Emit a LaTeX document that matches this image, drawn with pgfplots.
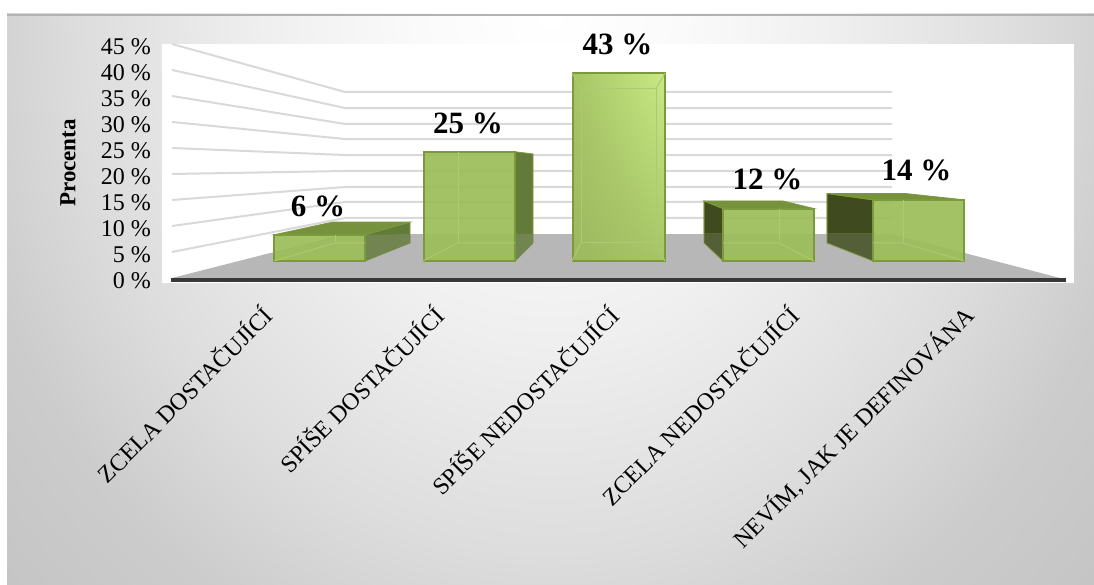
\documentclass[border=0pt]{standalone}
\usepackage{pgfplots}
\pgfplotsset{compat=1.18}
\usetikzlibrary{shadings}
\usepackage{fontspec}
\setmainfont{Liberation Serif}
\definecolor{bgA}{HTML}{FAFAFA}
\definecolor{bgB}{HTML}{EFEFEF}
\definecolor{bgC}{HTML}{DDDDDD}
\definecolor{bgD}{HTML}{CCCCCC}
\definecolor{bgE}{HTML}{C0C0C0}
\pgfdeclareradialshading{bg}{\pgfpoint{0bp}{0bp}}{color(0bp)=(white); color(6bp)=(bgA); color(12.75bp)=(bgB); color(21bp)=(bgC); color(27bp)=(bgD); color(37bp)=(bgE); color(50bp)=(bgE)}
\definecolor{gridc}{HTML}{D9D9D9}
\definecolor{floorc}{HTML}{B7B7B7}
\definecolor{frontc}{HTML}{9DBD5A}
\definecolor{edgec}{HTML}{7B9A3C}
\definecolor{topc}{HTML}{76923C}
\definecolor{sidec}{HTML}{637B38}
\definecolor{sided}{HTML}{72844F}
\definecolor{darkc}{HTML}{3F4A1F}
\definecolor{darkd}{HTML}{545F38}
\definecolor{innerc}{HTML}{AEC873}
\definecolor{hiA}{HTML}{9DB860}
\definecolor{hiB}{HTML}{A6C565}
\definecolor{hiC}{HTML}{C9E985}
\begin{document}
\begin{tikzpicture}[x=1pt,y=1pt]
\useasboundingbox (0,0) rectangle (1094,585);
\fill[white] (0,0) rectangle (1094,585);
\begin{scope}
\clip (7,0) rectangle (1094,571);
\shade[shading=bg] (-10,-69) rectangle (1110,1211);
\end{scope}
\draw[color=black!30,line width=2pt] (7,570) -- (1094,570);
% main axis: x in pixels, y in percent
\begin{axis}[
  at={(162pt,302pt)}, anchor=south west,
  scale only axis, width=912pt, height=239pt,
  xmin=162, xmax=1074, ymin=-0.96, ymax=45,
  clip=false,
  axis line style={draw=none},
  tick style={draw=none},
  axis background/.style={fill=white},
  ytick={0,5,...,45},
  yticklabels={0 \%,5 \%,10 \%,15 \%,20 \%,25 \%,30 \%,35 \%,40 \%,45 \%},
  yticklabel style={font=\fontsize{24}{28}\selectfont, anchor=east, inner sep=0pt, xshift=-11pt, yshift=-2.5pt},
  xtick={275,447,622,802,976},
  xticklabels={ZCELA DOSTAČUJÍCÍ,SPÍŠE DOSTAČUJÍCÍ,SPÍŠE NEDOSTAČUJÍCÍ,ZCELA NEDOSTAČUJÍCÍ,{NEVÍM, JAK JE DEFINOVÁNA}},
  xticklabel style={font=\fontsize{24}{28}\selectfont, rotate=45, anchor=north east, inner sep=0pt, xshift=-24.6pt, yshift=-3.4pt},
  gl/.style={color=gridc,line width=2pt,mark=none},
]
\addplot[fill=floorc,draw=none] coordinates {(172,0)(345,8.46)(892,8.46)(1060,0)} --cycle;
\addplot[gl] coordinates {(172,5)(345,11.54)(892,11.54)};
\addplot[gl] coordinates {(172,10)(345,14.62)(892,14.62)};
\addplot[gl] coordinates {(172,15)(345,17.5)(892,17.5)};
\addplot[gl] coordinates {(172,20)(345,20.58)(892,20.58)};
\addplot[gl] coordinates {(172,25)(345,23.65)(892,23.65)};
\addplot[gl] coordinates {(172,30)(345,26.73)(892,26.73)};
\addplot[gl] coordinates {(172,35)(345,29.62)(892,29.62)};
\addplot[gl] coordinates {(172,40)(345,32.69)(892,32.69)};
\addplot[gl] coordinates {(172,45)(345,35.77)(892,35.77)};
\addplot[color=black!78,line width=4pt,mark=none] coordinates {(171,-0.38)(1066,-0.38)};
\end{axis}
% bars: x in pixels, y in percent at the scale of the bars' front faces
\begin{axis}[
  at={(162pt,324pt)}, anchor=south west,
  scale only axis, width=912pt, height=217pt,
  xmin=162, xmax=1074, ymin=0, ymax=49.66,
  clip=false, hide axis,
]
\pgfplotsset{
  face/.style={draw=edgec,line width=0.8pt,fill=#1,mark=none},
  low/.style={draw=none,fill=#1,mark=none},
  edge/.style={color=edgec,line width=0.8pt,mark=none},
  inner/.style={color=innerc,line width=1pt,mark=none},
  front/.style={ybar,bar width=91,bar shift=0pt,fill=frontc,fill opacity=0.93,draw=edgec,line width=2pt,mark=none},
}
% bar 1
\addplot[face=sidec] coordinates {(365,6)(410,8.92)(410,4.12)(365,0)} --cycle;
\addplot[low=sided] coordinates {(365,6)(410,6.18)(410,4.12)(365,0)} --cycle;
\addplot[face=topc] coordinates {(274,6)(333,8.92)(410,8.92)(365,6)} --cycle;
\addplot[front] coordinates {(319.5,6)};
\addplot[inner] coordinates {(274,0)(335,4.12)(365,4.12)};
\addplot[inner] coordinates {(335,6)(335,4.12)};
% bar 2
\addplot[face=sidec] coordinates {(515,25)(533,24.5)(533,4.12)(515,0)} --cycle;
\addplot[low=sided] coordinates {(515,6.18)(533,6.18)(533,4.12)(515,0)} --cycle;
\addplot[front] coordinates {(469,25)};
\addplot[inner] coordinates {(423,0)(458,4.12)(515,4.12)};
\addplot[inner] coordinates {(458,25)(458,4.12)};
% bar 3
\addplot[ybar,bar width=92,bar shift=0pt,draw=edgec,line width=2pt,mark=none,shade,
  lower left=hiA,lower right=hiB,upper left=hiB,upper right=hiC] coordinates {(618.5,43)};
\addplot[inner] coordinates {(581,4.12)(581,39.4)(656,39.4)(656,4.12)} --cycle;
\addplot[inner] coordinates {(572,0)(581,4.12)};
\addplot[inner] coordinates {(665,0)(656,4.12)};
\addplot[inner] coordinates {(572,43)(581,39.4)};
\addplot[inner] coordinates {(665,43)(656,39.4)};
% bar 4
\addplot[face=darkc] coordinates {(704,13.73)(723,12)(723,6.18)(704,6.18)} --cycle;
\addplot[low=darkd] coordinates {(704,6.18)(723,6.18)(723,0)(704,4.12)} --cycle;
\addplot[edge] coordinates {(704,13.73)(704,4.12)(723,0)};
\addplot[face=topc] coordinates {(704,13.73)(783,13.73)(814,12)(723,12)} --cycle;
\addplot[front] coordinates {(768.5,12)};
\addplot[inner] coordinates {(723,4.12)(779,4.12)(814,0)};
\addplot[inner] coordinates {(779,12)(779,4.12)};
% bar 5
\addplot[face=darkc] coordinates {(827,15.45)(873,14)(873,6.18)(827,6.18)} --cycle;
\addplot[low=darkd] coordinates {(827,6.18)(873,6.18)(873,0)(827,4.12)} --cycle;
\addplot[edge] coordinates {(827,15.45)(827,4.12)(873,0)};
\addplot[face=topc] coordinates {(827,15.45)(905,15.45)(964,14)(873,14)} --cycle;
\addplot[front] coordinates {(918.5,14)};
\addplot[inner] coordinates {(873,4.12)(903,4.12)(964,0)};
\addplot[inner] coordinates {(903,14)(903,4.12)};
\end{axis}
\node[font=\fontsize{23}{27}\selectfont\bfseries,rotate=90] at (68,422) {Procenta};
\begin{scope}[every node/.style={font=\fontsize{31}{35}\selectfont\bfseries,inner sep=0pt}]
\node at (318,379) {6 \%};
\node at (468,462) {25 \%};
\node at (617.5,541) {43 \%};
\node at (767.5,406) {12 \%};
\node at (916.5,415) {14 \%};
\end{scope}
\end{tikzpicture}
\end{document}
